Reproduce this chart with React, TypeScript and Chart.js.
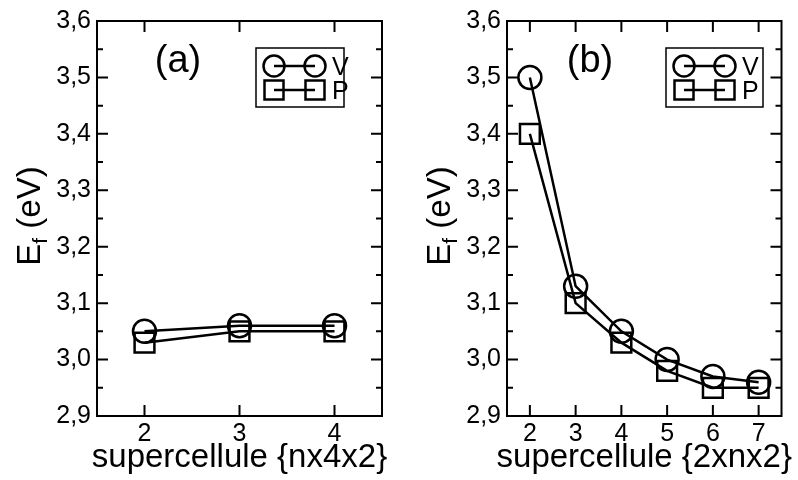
import React, { useEffect, useRef } from "react";
import { Chart, registerables } from "chart.js";
Chart.register(...registerables);

const FONT = '"Liberation Sans", Arial, Helvetica, sans-serif';

// ---- data ----
const yTicks = [2.9, 3.0, 3.1, 3.2, 3.3, 3.4, 3.5, 3.6];
const seriesNames = ["V", "P"];

const xCatsA = [2, 3, 4];
const vA = [3.05, 3.06, 3.06];
const pA = [3.03, 3.05, 3.05];

const xCatsB = [2, 3, 4, 5, 6, 7];
const vB = [3.5, 3.13, 3.05, 3.0, 2.97, 2.96];
const pB = [3.4, 3.1, 3.03, 2.98, 2.95, 2.95];

const panelLabels = ["(a)", "(b)"];
const xTitles = ["supercellule {nx4x2}", "supercellule {2xnx2}"];
const yTitleMain = "E";
const yTitleSub = "f";
const yTitleRest = " (eV)";

type Layout = {
  axisW: number;
  padRight: number;
  xMin: number;
  xMax: number;
  legLeft: number;
  legW: number;
  labelX: number;
};

const layouts: Layout[] = [
  { axisW: 97, padRight: 17, xMin: 1.5, xMax: 4.5, legLeft: 256, legW: 88, labelX: 178 },
  { axisW: 108, padRight: 7, xMin: 1.5, xMax: 7.5, legLeft: 267, legW: 97, labelX: 191 },
];

function fmt(v: number) {
  return Number(v).toFixed(1).replace(".", ",");
}

function makeDecor(idx: number, xTicks: number[]) {
  const L = layouts[idx];
  return {
    id: "decor" + idx,
    afterDraw(chart: any) {
      const ctx: CanvasRenderingContext2D = chart.ctx;
      const a = chart.chartArea;
      const xs = chart.scales.x;
      const ys = chart.scales.y;
      ctx.save();
      ctx.strokeStyle = "#000";
      ctx.fillStyle = "#000";
      ctx.lineWidth = 2;
      ctx.strokeRect(a.left, a.top, a.right - a.left, a.bottom - a.top);
      ctx.beginPath();
      for (let i = 0; i < yTicks.length; i++) {
        const y = ys.getPixelForValue(yTicks[i]);
        ctx.moveTo(a.left, y);
        ctx.lineTo(a.left + 11, y);
        ctx.moveTo(a.right, y);
        ctx.lineTo(a.right - 11, y);
        if (i < yTicks.length - 1) {
          const ym = ys.getPixelForValue((yTicks[i] + yTicks[i + 1]) / 2);
          ctx.moveTo(a.left, ym);
          ctx.lineTo(a.left + 6, ym);
          ctx.moveTo(a.right, ym);
          ctx.lineTo(a.right - 6, ym);
        }
      }
      for (const t of xTicks) {
        const x = xs.getPixelForValue(t);
        ctx.moveTo(x, a.bottom);
        ctx.lineTo(x, a.bottom - 11);
        ctx.moveTo(x, a.top);
        ctx.lineTo(x, a.top + 11);
      }
      ctx.stroke();

      // panel label
      ctx.font = `38px ${FONT}`;
      ctx.textAlign = "center";
      ctx.textBaseline = "alphabetic";
      ctx.fillText(panelLabels[idx], L.labelX, 72);

      // x title
      ctx.font = `33px ${FONT}`;
      ctx.fillText(xTitles[idx], (a.left + a.right) / 2, 467);

      // y title with subscript
      ctx.save();
      ctx.translate(a.left - 57, 216);
      ctx.rotate(-Math.PI / 2);
      ctx.textAlign = "left";
      ctx.font = `33px ${FONT}`;
      const wE = ctx.measureText(yTitleMain).width;
      const wR = ctx.measureText(yTitleRest).width;
      ctx.font = `21px ${FONT}`;
      const wF = ctx.measureText(yTitleSub).width;
      const start = -(wE + wF + wR) / 2;
      ctx.font = `33px ${FONT}`;
      ctx.fillText(yTitleMain, start, 0);
      ctx.font = `21px ${FONT}`;
      ctx.fillText(yTitleSub, start + wE, 7);
      ctx.font = `33px ${FONT}`;
      ctx.fillText(yTitleRest, start + wE + wF, 0);
      ctx.restore();

      // legend
      const lt = 48;
      const lh = 59;
      ctx.lineWidth = 1.5;
      ctx.strokeRect(L.legLeft, lt, L.legW, lh);
      ctx.lineWidth = 2.5;
      const rows = [66, 90];
      const c1 = L.legLeft + 18;
      const c2 = L.legLeft + 59;
      rows.forEach((ry, k) => {
        ctx.beginPath();
        ctx.moveTo(c1, ry);
        ctx.lineTo(c2, ry);
        ctx.stroke();
        for (const cx of [c1, c2]) {
          ctx.beginPath();
          if (k === 0) ctx.arc(cx, ry, 10.5, 0, Math.PI * 2);
          else ctx.rect(cx - 9.5, ry - 9.5, 19, 19);
          ctx.stroke();
        }
        ctx.font = `25px ${FONT}`;
        ctx.textAlign = "left";
        ctx.fillText(seriesNames[k], L.legLeft + 76, ry + 9);
      });
      ctx.restore();
    },
  };
}

function Panel({ idx, xCats, v, p }: { idx: number; xCats: number[]; v: number[]; p: number[] }) {
  const ref = useRef<HTMLCanvasElement>(null);
  useEffect(() => {
    const L = layouts[idx];
    const mk = (ys: number[]) => xCats.map((x, i) => ({ x, y: ys[i] }));
    const chart = new Chart(ref.current as HTMLCanvasElement, {
      type: "line",
      data: {
        datasets: [
          {
            label: seriesNames[0],
            data: mk(v),
            borderColor: "#000",
            borderWidth: 2.5,
            pointStyle: "circle",
            pointRadius: 11.5,
            pointBorderWidth: 2.5,
            pointBorderColor: "#000",
            pointBackgroundColor: "rgba(0,0,0,0)",
            tension: 0,
          },
          {
            label: seriesNames[1],
            data: mk(p),
            borderColor: "#000",
            borderWidth: 2.5,
            pointStyle: "rect",
            pointRadius: 14,
            pointBorderWidth: 2.5,
            pointBorderColor: "#000",
            pointBackgroundColor: "rgba(0,0,0,0)",
            tension: 0,
          },
        ],
      },
      options: {
        responsive: false,
        animation: false,
        layout: { padding: { top: 19, right: L.padRight, left: 0, bottom: 0 } },
        plugins: { legend: { display: false }, tooltip: { enabled: false } },
        scales: {
          x: {
            type: "linear",
            min: L.xMin,
            max: L.xMax,
            grid: { display: false, drawTicks: false },
            border: { display: false },
            afterBuildTicks: (s: any) => {
              s.ticks = xCats.map((t) => ({ value: t }));
            },
            afterFit: (s: any) => {
              s.height = 64;
            },
            ticks: {
              color: "#000",
              padding: 3,
              maxRotation: 0,
              font: { family: FONT, size: 25 },
              callback: (val: any) => String(val),
            },
          },
          y: {
            type: "linear",
            min: 2.9,
            max: 3.6,
            grid: { display: false, drawTicks: false },
            border: { display: false },
            afterBuildTicks: (s: any) => {
              s.ticks = yTicks.map((t) => ({ value: t }));
            },
            afterFit: (s: any) => {
              s.width = L.axisW;
            },
            ticks: {
              color: "#000",
              padding: 6,
              font: { family: FONT, size: 25 },
              callback: (val: any) => fmt(val),
            },
          },
        },
      },
      plugins: [makeDecor(idx, xCats)],
    } as any);
    return () => chart.destroy();
  }, []);
  return <canvas ref={ref} width={399} height={480} style={{ display: "block" }} />;
}

export default function App() {
  return (
    <div
      style={{
        position: "absolute",
        left: 0,
        top: 0,
        width: 798,
        height: 480,
        display: "flex",
        background: "#fff",
      }}
    >
      <Panel idx={0} xCats={xCatsA} v={vA} p={pA} />
      <Panel idx={1} xCats={xCatsB} v={vB} p={pB} />
    </div>
  );
}
